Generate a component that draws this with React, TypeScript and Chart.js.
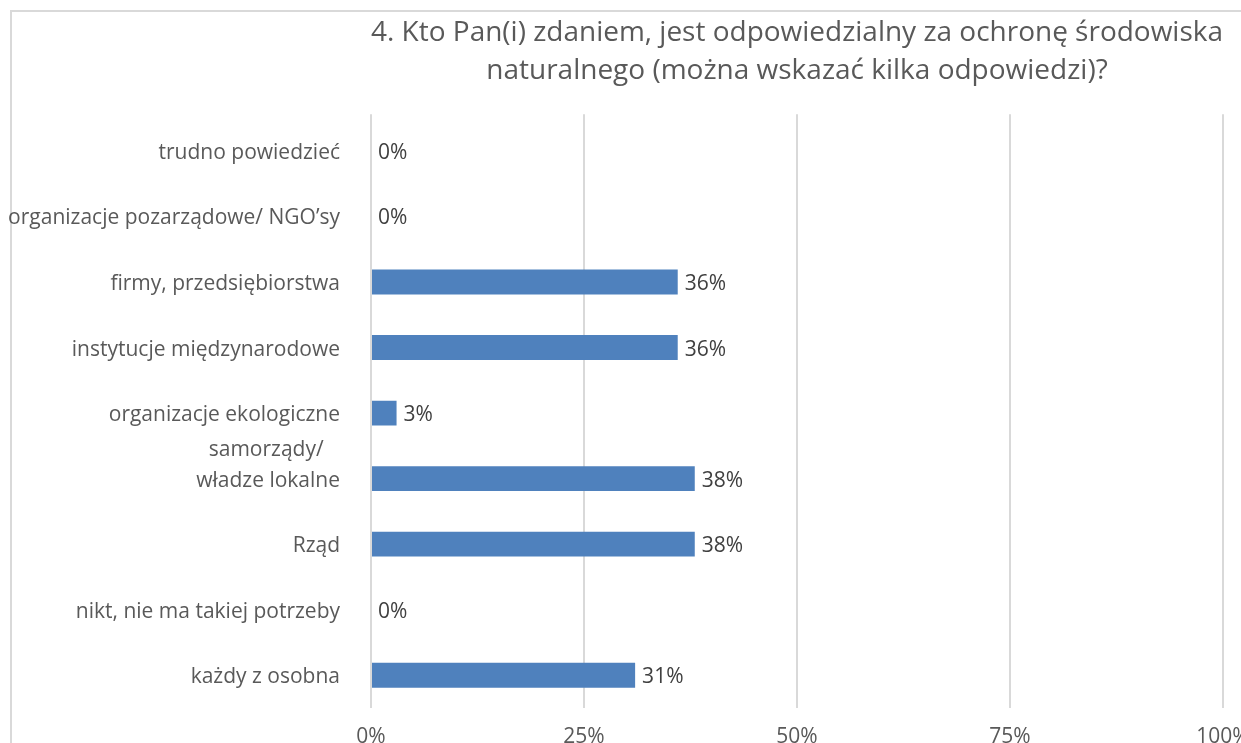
import React, { useEffect, useRef } from "react";
import { Chart, registerables } from "chart.js";

Chart.register(...registerables);

const categories: (string | string[])[] = [
  "trudno powiedzieć",
  "organizacje pozarządowe/ NGO’sy",
  "firmy, przedsiębiorstwa",
  "instytucje międzynarodowe",
  "organizacje ekologiczne",
  ["samorządy/   ", "władze lokalne", ""],
  "Rząd",
  "nikt, nie ma takiej potrzeby",
  "każdy z osobna",
];
const values: number[] = [0, 0, 36, 36, 3, 38, 38, 0, 31];
const xTicks: number[] = [0, 25, 50, 75, 100];
const titleLines: string[] = [
  "4. Kto Pan(i) zdaniem, jest odpowiedzialny za ochronę środowiska",
  "naturalnego (można wskazać kilka odpowiedzi)?",
];

const FONT = "'Open Sans', sans-serif";
const GRID = "#d9d9d9";

export default function App() {
  const ref = useRef<HTMLCanvasElement | null>(null);

  useEffect(() => {
    if (!ref.current) return;
    const borderPlugin = {
      id: "frameBorder",
      beforeDraw(chart: any) {
        const ctx = chart.ctx;
        ctx.save();
        ctx.fillStyle = "#ffffff";
        ctx.fillRect(0, 0, chart.width, chart.height);
        ctx.strokeStyle = GRID;
        ctx.lineWidth = 2;
        ctx.strokeRect(11, 11, chart.width + 100, chart.height + 100);
        ctx.restore();
      },
      beforeDatasetsDraw(chart: any) {
        // gridlines reach a few pixels above the first category band
        const ctx = chart.ctx;
        const xs = chart.scales.x;
        const top = chart.chartArea.top;
        ctx.save();
        ctx.strokeStyle = GRID;
        ctx.lineWidth = 2;
        xTicks.forEach((v) => {
          const px = Math.round(xs.getPixelForValue(v));
          ctx.beginPath();
          ctx.moveTo(px, top - 4);
          ctx.lineTo(px, top + 1);
          ctx.stroke();
        });
        ctx.restore();
      },
    };
    const labelPlugin = {
      id: "valueLabels",
      afterDatasetsDraw(chart: any) {
        const ctx = chart.ctx;
        const meta = chart.getDatasetMeta(0);
        ctx.save();
        ctx.font = `21px ${FONT}`;
        ctx.fillStyle = "#404040";
        ctx.textAlign = "left";
        ctx.textBaseline = "middle";
        meta.data.forEach((bar: any, i: number) => {
          ctx.fillText(`${values[i]}%`, bar.x + 7, bar.y + 2);
        });
        ctx.restore();
      },
    };
    const chart = new Chart(ref.current, {
      type: "bar",
      data: {
        labels: categories,
        datasets: [
          {
            data: values,
            backgroundColor: "#4f81bd",
            borderWidth: 0,
            barPercentage: 0.38,
            categoryPercentage: 1,
          },
        ],
      },
      options: {
        indexAxis: "y",
        responsive: false,
        animation: false,
        layout: { padding: { left: 0, right: 18, top: 0, bottom: 0 } },
        plugins: {
          legend: { display: false },
          tooltip: { enabled: false },
          title: {
            display: true,
            text: titleLines,
            fullSize: false,
            color: "#595959",
            font: { family: FONT, size: 28, weight: "normal", lineHeight: 1.36 },
            padding: { top: 14, bottom: 28 },
          },
        },
        scales: {
          x: {
            min: 0,
            max: 100,
            afterBuildTicks(scale: any) {
              scale.ticks = xTicks.map((v) => ({ value: v }));
            },
            afterFit(scale: any) {
              scale.height = 35;
              scale.paddingLeft = 0;
              scale.paddingRight = 0;
            },
            grid: { color: GRID, lineWidth: 2, drawTicks: false },
            border: { display: false },
            ticks: {
              color: "#595959",
              font: { family: FONT, size: 21 },
              padding: 16,
              maxRotation: 0,
              callback: (v: any) => `${v}%`,
            },
          },
          y: {
            afterFit(scale: any) {
              scale.width = 371;
              scale.paddingTop = 0;
              scale.paddingBottom = 0;
            },
            grid: { display: false, drawTicks: false },
            border: { display: false },
            ticks: {
              color: "#595959",
              font: { family: FONT, size: 21, lineHeight: 1.45 },
              padding: 31,
              labelOffset: 2,
              autoSkip: false,
            },
          },
        },
      },
      plugins: [borderPlugin, labelPlugin],
    });
    return () => chart.destroy();
  }, []);

  return (
    <div style={{ position: "fixed", left: 0, top: 0, width: 1241, height: 743, overflow: "hidden" }}>
      <canvas ref={ref} width={1241} height={743} style={{ display: "block" }} />
    </div>
  );
}
